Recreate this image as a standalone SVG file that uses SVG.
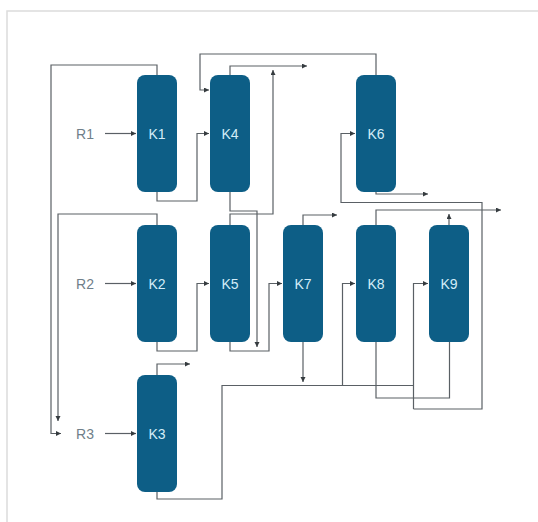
<svg xmlns="http://www.w3.org/2000/svg" width="538" height="522" viewBox="0 0 538 522">
<defs>
<style>
.node{fill:#0d5e86;}
.nt{font-family:"Liberation Sans",Arial,sans-serif;font-size:14px;fill:#d3edf8;text-anchor:middle;dominant-baseline:central;}
.lbl{font-family:"Liberation Sans",Arial,sans-serif;font-size:14px;fill:#6f7f8a;text-anchor:middle;dominant-baseline:central;}
.c{fill:none;stroke:#5a6065;stroke-width:1.2;}
.a{marker-end:url(#arr);}
</style>
<marker id="arr" markerUnits="userSpaceOnUse" markerWidth="6" markerHeight="6" refX="5" refY="2.5" orient="auto">
<path d="M0,0 L5,2.5 L0,5 z" fill="#353b3f"/>
</marker>
</defs>
<rect x="0" y="0" width="538" height="522" fill="#ffffff"/>
<rect x="7" y="11" width="540" height="520" fill="none" stroke="#dcdcdc" stroke-width="1.5"/>
<g id="connectors">
<path class="c a" d="M105,133.5 H136"/>
<path class="c a" d="M105,283.5 H136"/>
<path class="c a" d="M105,433.5 H136"/>
<path class="c a" d="M157,75 V65 H51 V433.5 H61"/>
<path class="c a" d="M157,225 V214 H58 V421"/>
<path class="c a" d="M157,192 V201 H197 V133.5 H209"/>
<path class="c a" d="M157,342 V351 H197 V283.5 H209"/>
<path class="c" d="M157,492 V499 H222 V385.5 H413.5"/>
<path class="c a" d="M342.5,385.5 V283.5 H355"/>
<path class="c a" d="M413.5,409 H482 V202.5 H341 V133.5 H355"/>
<path class="c a" d="M413.5,409 V283.5 H428"/>
<path class="c a" d="M303,342 V382"/>
<path class="c a" d="M230,75 V66 H307"/>
<path class="c a" d="M230,225 V214 H273 V70"/>
<path class="c a" d="M230,192 V211 H257 V347"/>
<path class="c a" d="M230,342 V351 H269 V283.5 H282"/>
<path class="c a" d="M376,75 V54 H200 V90 H209"/>
<path class="c a" d="M376,192 V194 H428"/>
<path class="c a" d="M303,225 V215 H337"/>
<path class="c a" d="M376,225 V210 H501"/>
<path class="c a" d="M449,225 V214"/>
<path class="c a" d="M157,375 V364 H190"/>
<path class="c" d="M376,342 V398 H449.5 V342"/>
</g>
<g id="R1"><text class="lbl" x="85" y="133.5">R1</text></g>
<g id="R2"><text class="lbl" x="85" y="283.5">R2</text></g>
<g id="R3"><text class="lbl" x="85" y="433.5">R3</text></g>
<g id="K1"><rect class="node" x="137" y="75" width="40" height="117" rx="8"/><text class="nt" x="157" y="133.5">K1</text></g>
<g id="K2"><rect class="node" x="137" y="225" width="40" height="117" rx="8"/><text class="nt" x="157" y="283.5">K2</text></g>
<g id="K3"><rect class="node" x="137" y="375" width="40" height="117" rx="8"/><text class="nt" x="157" y="433.5">K3</text></g>
<g id="K4"><rect class="node" x="210" y="75" width="40" height="117" rx="8"/><text class="nt" x="230" y="133.5">K4</text></g>
<g id="K5"><rect class="node" x="210" y="225" width="40" height="117" rx="8"/><text class="nt" x="230" y="283.5">K5</text></g>
<g id="K6"><rect class="node" x="356" y="75" width="40" height="117" rx="8"/><text class="nt" x="376" y="133.5">K6</text></g>
<g id="K7"><rect class="node" x="283" y="225" width="40" height="117" rx="8"/><text class="nt" x="303" y="283.5">K7</text></g>
<g id="K8"><rect class="node" x="356" y="225" width="40" height="117" rx="8"/><text class="nt" x="376" y="283.5">K8</text></g>
<g id="K9"><rect class="node" x="429" y="225" width="40" height="117" rx="8"/><text class="nt" x="449" y="283.5">K9</text></g>
</svg>
